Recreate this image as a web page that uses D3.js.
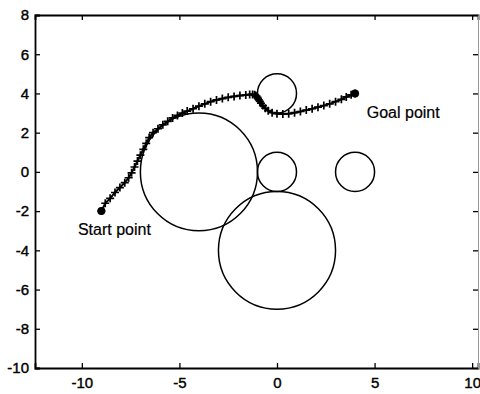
<!DOCTYPE html>
<html>
<head>
<meta charset="utf-8">
<script src="https://cdn.jsdelivr.net/npm/d3@7"></script>
<style>
  body { margin: 0; background: #fff; }
  text { font-family: "Liberation Sans", Arial, sans-serif; }
</style>
</head>
<body>
<svg class="chart"></svg>
<script>
// obstacles: centre x, centre y, radius
var obsX = [-4, 0, 0, 0, 4];
var obsY = [0, -4, 4, 0, 0];
var obsR = [3, 3, 1, 1, 1];

// path
var pathX = [-9.0, -8.8, -8.55, -8.3, -8.05, -7.8, -7.6, -7.45, -7.3, -7.15, -7.0, -6.85, -6.7, -6.55,
    -6.35, -6.1, -5.85, -5.6, -5.35, -5.1, -4.85, -4.6, -4.3, -4.0, -3.7, -3.4, -3.1, -2.8, -2.5, -2.2,
    -1.9, -1.6, -1.4, -1.25, -1.15, -1.1, -1.05, -1.0, -0.97, -0.93, -0.88, -0.82, -0.72, -0.6, -0.45,
    -0.25, 0.0, 0.3, 0.6, 0.9, 1.2, 1.5, 1.8, 2.1, 2.4, 2.7, 3.0, 3.3, 3.55, 3.8, 4.0];
var pathY = [-2.0, -1.6, -1.35, -1.05, -0.8, -0.55, -0.3, -0.05, 0.25, 0.55, 0.85, 1.15, 1.45, 1.75,
    2.0, 2.2, 2.4, 2.58, 2.75, 2.88, 3.0, 3.1, 3.22, 3.35, 3.47, 3.58, 3.67, 3.74, 3.8, 3.85,
    3.89, 3.92, 3.94, 3.95, 3.93, 3.9, 3.86, 3.8, 3.74, 3.67, 3.6, 3.5, 3.38, 3.25, 3.12,
    3.02, 2.97, 2.95, 2.97, 3.02, 3.08, 3.15, 3.22, 3.3, 3.38, 3.47, 3.58, 3.7, 3.82, 3.93, 4.0];

var xTicks = [-10, -5, 0, 5, 10];
var yTicks = [-10, -8, -6, -4, -2, 0, 2, 4, 6, 8];
var labels = [{ text: "Start point", x: -10.2, y: -3.2 }, { text: "Goal point", x: 4.6, y: 2.75 }];

function show() {
    'use strict';

    var width = 480, height = 394;
    var left = 35, right = 478, top = 15, bottom = 368;

    var svg = d3.select(".chart")
        .attr("width", width)
        .attr("height", height);

    var x = d3.scaleLinear().domain([-12.4, 10.3]).range([left, right]);
    var y = d3.scaleLinear().domain([-10, 8]).range([bottom, top]);

    // obstacles
    var obs = obsX.map(function (d, i) { return { x: d, y: obsY[i], r: obsR[i] }; });
    svg.append("g").selectAll("ellipse").data(obs).enter()
        .append("ellipse")
        .attr("cx", function (d) { return x(d.x); })
        .attr("cy", function (d) { return y(d.y); })
        .attr("rx", function (d) { return x(d.r) - x(0); })
        .attr("ry", function (d) { return y(0) - y(d.r); })
        .attr("fill", "none")
        .attr("stroke", "#000")
        .attr("stroke-width", 1.5);

    // path
    var pts = pathX.map(function (d, i) { return [d, pathY[i]]; });
    var line = d3.line().x(function (d) { return x(d[0]); }).y(function (d) { return y(d[1]); });
    svg.append("path")
        .attr("d", line(pts))
        .attr("fill", "none")
        .attr("stroke", "#000")
        .attr("stroke-width", 2);

    svg.append("g").selectAll("path").data(pts).enter()
        .append("path")
        .attr("d", function (d) {
            var px = x(d[0]), py = y(d[1]), s = 4;
            return "M" + (px - s) + "," + py + "H" + (px + s) + "M" + px + "," + (py - s) + "V" + (py + s);
        })
        .attr("stroke", "#000")
        .attr("stroke-width", 1.7);

    // start and goal
    svg.append("g").selectAll("circle").data([pts[0], pts[pts.length - 1]]).enter()
        .append("circle")
        .attr("cx", function (d) { return x(d[0]); })
        .attr("cy", function (d) { return y(d[1]); })
        .attr("r", 4)
        .attr("fill", "#000");

    svg.append("g").selectAll("text").data(labels).enter()
        .append("text")
        .attr("x", function (d) { return x(d.x); })
        .attr("y", function (d) { return y(d.y); })
        .attr("font-size", 16)
        .attr("stroke", "#000")
        .attr("stroke-width", 0.2)
        .text(function (d) { return d.text; });

    // axes, MATLAB style box with inward ticks
    var tk = 5;
    var fmt = function (d) { return String(d); };
    svg.append("g").attr("transform", "translate(0," + bottom + ")")
        .call(d3.axisBottom(x).tickValues(xTicks).tickSize(-tk).tickPadding(9).tickFormat(fmt));
    svg.append("g").attr("transform", "translate(0," + top + ")")
        .call(d3.axisTop(x).tickValues(xTicks).tickSize(-tk).tickFormat(""));
    svg.append("g").attr("transform", "translate(" + left + ",0)")
        .call(d3.axisLeft(y).tickValues(yTicks).tickSize(-tk).tickPadding(6).tickFormat(fmt));
    svg.append("g").attr("class", "rightAxis").attr("transform", "translate(" + right + ",0)")
        .call(d3.axisRight(y).tickValues(yTicks).tickSize(-tk).tickFormat(""));

    svg.selectAll(".domain").attr("stroke", "#000").attr("stroke-width", 1.8);
    svg.selectAll(".tick line").attr("stroke", "#000").attr("stroke-width", 1.3);
    svg.selectAll(".rightAxis .domain").attr("stroke", "#999").attr("stroke-width", 1);
    svg.selectAll(".tick text")
        .attr("fill", "#000")
        .attr("stroke", "#000")
        .attr("stroke-width", 0.4)
        .style("font-family", "'Liberation Sans', Arial, sans-serif")
        .attr("font-size", 15);
}
show();
</script>
</body>
</html>
